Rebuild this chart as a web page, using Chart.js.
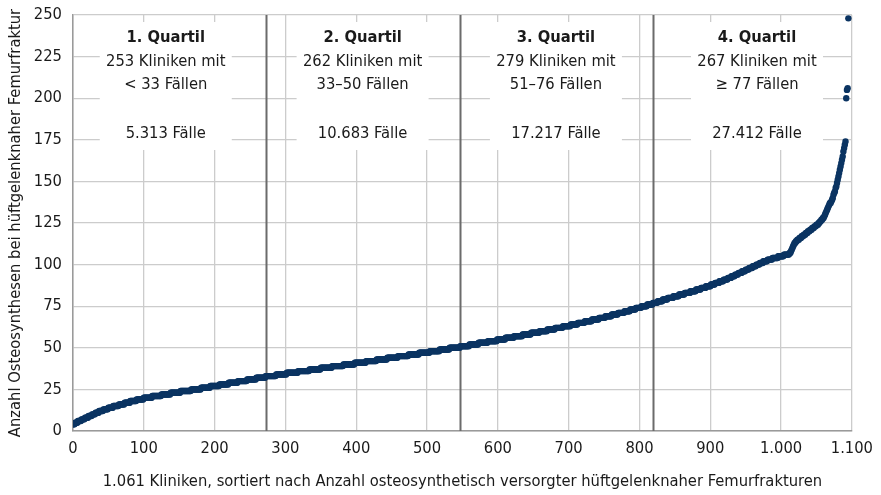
<!DOCTYPE html>
<html>
<head>
<meta charset="utf-8">
<script src="https://cdn.jsdelivr.net/npm/chart.js@4.4.1/dist/chart.umd.min.js"></script>
<style>
  html, body { margin: 0; padding: 0; background: #fff; }
  #wrap { width: 881px; height: 495px; }
</style>
</head>
<body>
<div id="wrap"><canvas id="femurChart"></canvas></div>
<script>
// number of clinics per case count, starting at 4 cases
const firstCaseCount = 4;
const clinicsPerCaseCount = [
  3, 4, 5, 5, 5, 5, 5, 5, 6, 7,          // 4-13
  7, 8, 8, 8, 9, 10, 12, 13, 13, 14,     // 14-23
  15, 14, 13, 13, 13, 13, 13, 13, 13, 15, // 24-33
  15, 16, 16, 16, 16, 16, 16, 16, 15, 15, // 34-43
  15, 15, 15, 15, 14, 14, 15, 13, 13, 13, // 44-53
  13, 12, 12, 12, 12, 12, 11, 11, 11, 11, // 54-63
  10, 10, 10, 10, 9, 9, 9, 9, 8, 8,      // 64-73
  8, 8, 8, 7, 7, 7, 8, 8, 8, 8,          // 74-83
  8, 7, 7, 7, 6, 6, 6, 6, 5, 5,          // 84-93
  5, 5, 5, 5, 5, 5, 5, 5, 6, 7,          // 94-103
  8, 8, 8, 2, 1, 1, 1, 1, 1, 2,          // 104-113
  2, 3, 3, 3, 3, 3, 3, 3, 3, 3,          // 114-123
  3, 2, 2, 2, 2, 1, 1, 1, 1, 1,          // 124-133
  1, 1, 1, 2                             // 134-137
];
// the largest clinics, one each
const singleClinicCases = [138, 139, 140, 142, 143, 144, 146, 147, 149, 151, 153, 155,
  157, 159, 161, 163, 165, 168, 170, 172, 174, 200, 205, 206, 248];

// quartile borders on the x axis and the quartile summaries
const quartileBorders = [272, 547, 819];
const quartileNames = ['1. Quartil', '2. Quartil', '3. Quartil', '4. Quartil'];
const quartileClinics = [253, 262, 279, 267];
const quartileRanges = ['< 33', '33–50', '51–76', '≥ 77'];
const quartileCases = [5313, 10683, 17217, 27412];

const yTicks = [0, 25, 50, 75, 100, 125, 150, 175, 200, 225, 250];

// sorted list of case counts -> one point per clinic
const caseCounts = [];
clinicsPerCaseCount.forEach((n, k) => {
  for (let j = 0; j < n; j++) caseCounts.push(firstCaseCount + k);
});
singleClinicCases.forEach(v => caseCounts.push(v));
const points = caseCounts.map((v, i) => ({ x: i, y: v }));

const FONT = '"DejaVu Sans Condensed", "Liberation Sans Narrow", sans-serif';
const FS = 16.4;
const deNum = n => String(n).replace(/\B(?=(\d{3})+(?!\d))/g, '.');

// label centres for the four quartile boxes (x axis units)
const labelCenters = [131, 409, 682, 966];

const quartilePlugin = {
  id: 'quartiles',
  beforeDatasetsDraw(chart) {
    const { ctx, chartArea, scales } = chart;
    const x = scales.x;
    ctx.save();
    // white boxes behind the texts
    ctx.fillStyle = '#fff';
    labelCenters.forEach(c => {
      const cx = x.getPixelForValue(c);
      ctx.fillRect(cx - 66, chartArea.top + 7, 132, 128);
    });
    // borders between the quartiles
    ctx.strokeStyle = '#6b6b6b';
    ctx.lineWidth = 2;
    quartileBorders.forEach(b => {
      const px = Math.round(x.getPixelForValue(b)) + 0.5;
      ctx.beginPath();
      ctx.moveTo(px, chartArea.top);
      ctx.lineTo(px, chartArea.bottom);
      ctx.stroke();
    });
    // texts
    ctx.fillStyle = '#1a1a1a';
    ctx.textAlign = 'center';
    ctx.textBaseline = 'middle';
    labelCenters.forEach((c, q) => {
      const cx = x.getPixelForValue(c);
      const t = chartArea.top;
      ctx.font = 'bold ' + FS + 'px ' + FONT;
      ctx.fillText(quartileNames[q], cx, t + 23);
      ctx.font = FS + 'px ' + FONT;
      ctx.fillText(quartileClinics[q] + ' Kliniken mit', cx, t + 47);
      ctx.fillText(quartileRanges[q] + ' Fällen', cx, t + 70);
      ctx.fillText(deNum(quartileCases[q]) + ' Fälle', cx, t + 119);
    });
    ctx.restore();
  }
};

new Chart(document.getElementById('femurChart'), {
  type: 'scatter',
  data: {
    datasets: [{
      data: points,
      backgroundColor: '#0b3462',
      borderWidth: 0,
      pointRadius: 3.2,
      pointHoverRadius: 3.2
    }]
  },
  options: {
    responsive: true,
    maintainAspectRatio: false,
    animation: false,
    layout: { padding: { top: 15, right: 26, left: 0, bottom: 0 } },
    plugins: {
      legend: { display: false },
      tooltip: { enabled: false }
    },
    scales: {
      x: {
        type: 'linear',
        min: 0,
        max: 1100,
        afterFit(axis) { axis.height = 64; },
        border: { color: '#9a9a9a', width: 1.5 },
        grid: { color: '#cccccc', lineWidth: 1.3, drawTicks: false },
        ticks: {
          stepSize: 100,
          padding: 8,
          color: '#1a1a1a',
          font: { family: FONT, size: FS },
          callback: v => deNum(v)
        },
        title: {
          display: true,
          text: deNum(1061) + ' Kliniken, sortiert nach Anzahl osteosynthetisch versorgter hüftgelenknaher Femurfrakturen',
          color: '#1a1a1a',
          font: { family: FONT, size: FS },
          padding: { top: 0, bottom: 3 }
        }
      },
      y: {
        min: 0,
        max: 250,
        afterFit(axis) {
          axis.width = 73;
          axis.paddingTop = 0;
          axis.paddingBottom = 0;
        },
        afterBuildTicks(axis) { axis.ticks = yTicks.map(v => ({ value: v })); },
        border: { color: '#9a9a9a', width: 1.5 },
        grid: { color: '#cccccc', lineWidth: 1.3, drawTicks: false },
        ticks: {
          padding: 11,
          color: '#1a1a1a',
          font: { family: FONT, size: FS }
        },
        title: {
          display: true,
          text: 'Anzahl Osteosynthesen bei hüftgelenknaher Femurfraktur',
          color: '#1a1a1a',
          font: { family: FONT, size: FS },
          padding: { top: 6, bottom: 0 }
        }
      }
    }
  },
  plugins: [quartilePlugin]
});
</script>
</body>
</html>
